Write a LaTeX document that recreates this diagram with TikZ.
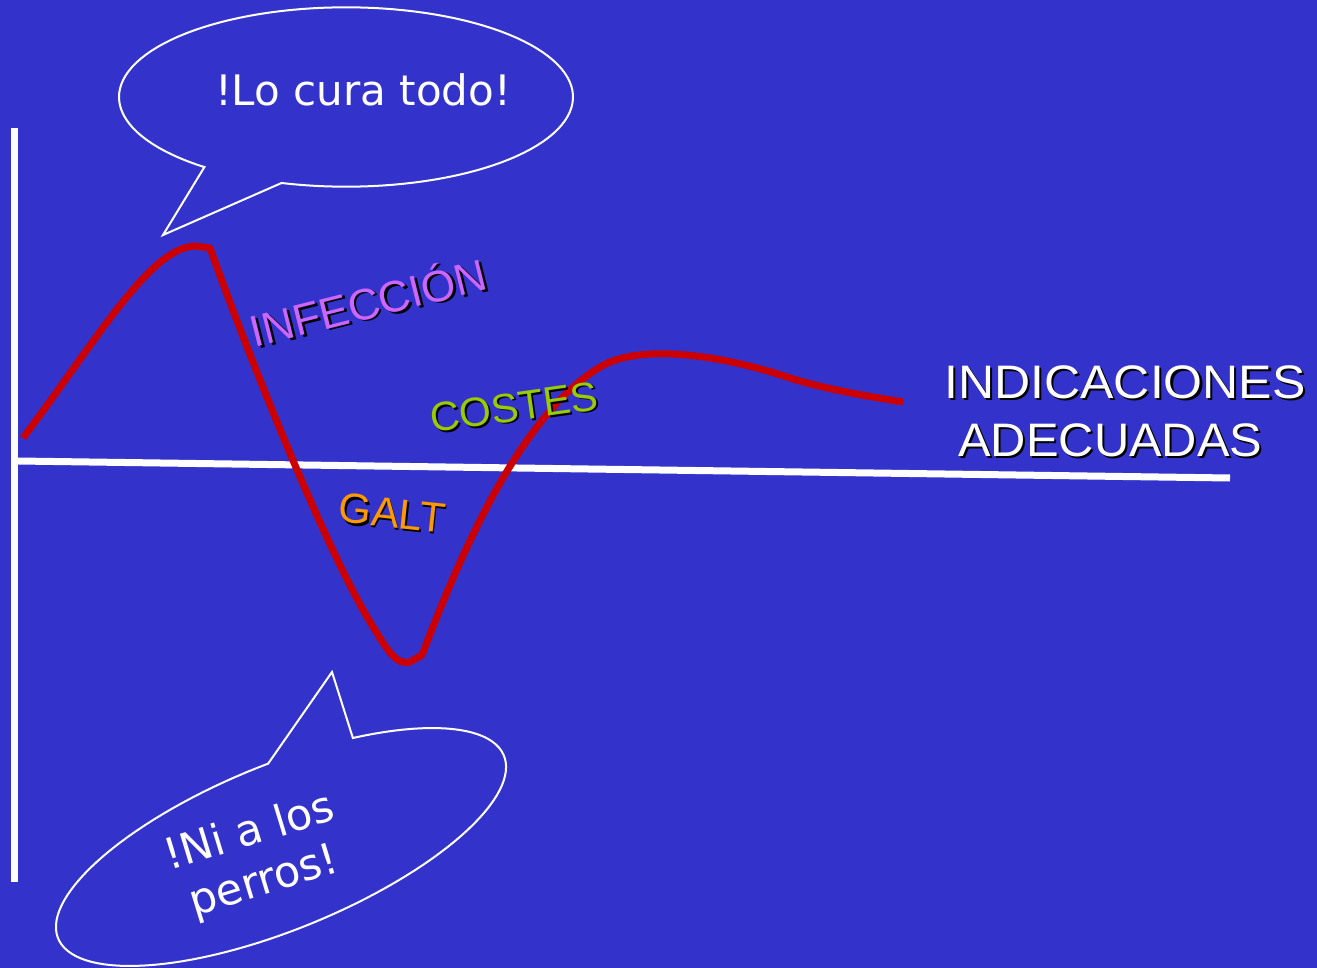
\documentclass[tikz,border=0pt]{standalone}
\usepackage{fontspec}
\setmainfont{DejaVu Sans}
\setsansfont{DejaVu Sans}
\newfontfamily\arial{Liberation Sans}
\usepackage{xcolor}
\usepackage{tikz}

\definecolor{fondo}{HTML}{3333CC}
\definecolor{rojo}{HTML}{CC0000}
\definecolor{violeta}{HTML}{CC66FF}
\definecolor{lima}{HTML}{99CC00}
\definecolor{naranja}{HTML}{FF9900}
\newcommand{\sombra}[2]{\leavevmode\rlap{\kern2pt\raisebox{-2pt}{\color{black}#2}}{\color{#1}#2}}

\begin{document}
\begin{tikzpicture}[x=1pt,y=-1pt,
   font=\sffamily,
   every node/.style={inner sep=0pt},
   eje/.style={white,line width=7pt},
   curva/.style={draw=rojo,line width=7pt,line join=round},
   globo/.style={draw=white,line width=2pt,line join=miter},
   texto/.style 2 args={font=\fontsize{#1}{#2}\selectfont},
   rotulo/.style={font=\arial\fontsize{#1}{#1}\selectfont}]
\fill[fondo] (0,0) rectangle (1317,968);
\useasboundingbox (0,0) rectangle (1317,968);
% ejes
\coordinate (O1) at (14,128);
\coordinate (O2) at (14,882);
\coordinate (H1) at (18,461);
\coordinate (H2) at (1230,478);
\draw[eje] (O1) -- (O2);
\draw[eje] (H1) -- (H2);
% curva
\draw[curva] (23,438) .. controls (100,335) and (150,248) .. (195,246) -- (210,248)
   .. controls (250,360) and (330,560) .. (375,630)
   .. controls (390,655) and (398,665) .. (410,662) -- (422,655)
   .. controls (460,555) and (520,415) .. (600,367)
   .. controls (640,343) and (720,355) .. (787,377)
   .. controls (820,388) and (865,396) .. (903,402);
% globos
\draw[globo] plot[domain=128.6:466.5,samples=120] ({346+227*cos(\x)},{97+89.7*sin(\x)})
   -- (163,235) -- cycle;
\draw[globo] plot[domain=85.3:423.4,samples=120]
   ({281+222.9*cos(\x)-31.23*sin(\x)},{847-91.42*cos(\x)-76.14*sin(\x)})
   -- (332,672) -- cycle;
\node[texto={42}{50},white] (cura) at (363,90) {!Lo cura todo!};
\node[texto={43}{51},white,align=center,rotate=17] (perros) at (257,858) {!Ni a los\\perros!};
% rotulos
\node[rotulo=44,rotate=14] (infeccion) at (368,301) {\sombra{violeta}{INFECCIÓN}};
\node[rotulo=41,rotate=8] (costes) at (514,408) {\sombra{lima}{COSTES}};
\node[rotulo=42,rotate=-6] (galt) at (392,514) {\sombra{naranja}{GALT}};
\node[rotulo=47,xscale=1.065,anchor=base west] (indic) at (944,398) {\sombra{white}{INDICACIONES}};
\node[rotulo=47,xscale=1.04,anchor=base west] (adec) at (958,456) {\sombra{white}{ADECUADAS}};
\end{tikzpicture}
\end{document}
